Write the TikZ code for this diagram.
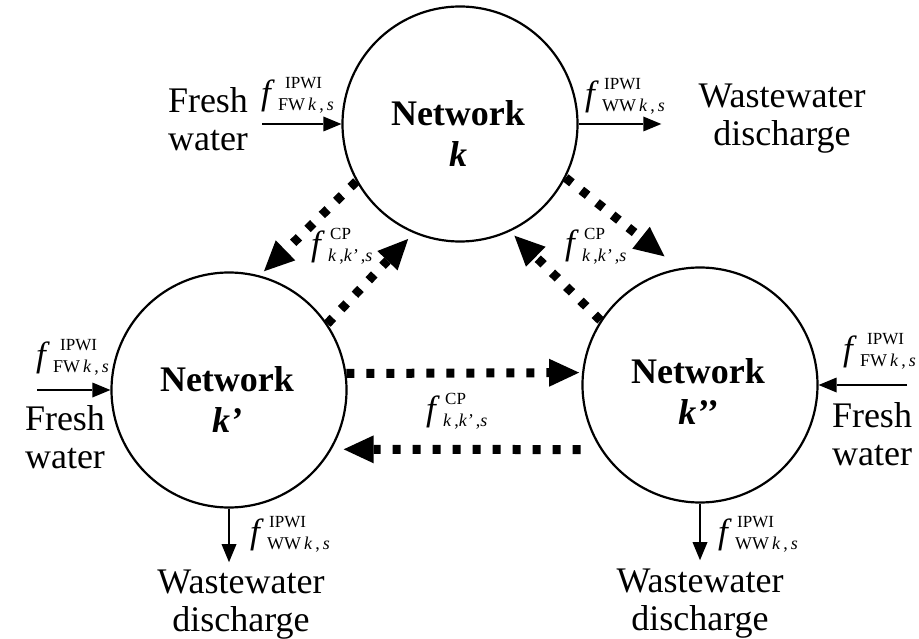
\documentclass[tikz,border=0pt]{standalone}
\usepackage{fontspec}
\setmainfont{Liberation Serif}
\usetikzlibrary{arrows.meta}

% flow symbol f with a superscript and a subscript; #3 shifts the superscript
\newcommand\flowlbl[3]{%
  \makebox[0pt][l]{\itshape f}%
  \makebox[0pt][l]{\hspace{#3}\raisebox{16pt}{\fontsize{17}{17}\selectfont #1}}%
  \hspace{17pt}\raisebox{-6pt}{\fontsize{18}{18}\selectfont #2}}
\newcommand\subks[1]{#1\,\textit{k}\,,\,\textit{s}}
\newcommand\subcp{\textit{k}\,,\textit{k’}\,,\textit{s}}
\newcommand\twoline[1]{\begin{tabular}[t]{@{}c@{}}#1\end{tabular}}

\tikzset{
  net/.style={circle, draw, line width=2.2pt, minimum size=235pt, inner sep=0pt},
  nettext/.style={font=\fontsize{36}{41}\selectfont\bfseries, anchor=base, inner sep=0pt},
  side/.style={font=\fontsize{36}{38}\selectfont, anchor=base, inner sep=0pt},
  lbl/.style={font=\fontsize{35}{35}\selectfont, anchor=base west, inner sep=0pt},
  flow/.style={line width=2.4pt, -{Triangle[length=18pt,width=15pt,line width=0pt]}},
  cpflow/.style={line width=9pt, dash pattern=on 8pt off 12pt,
    -{Triangle[length=30pt,width=28pt,line width=0pt]}},
}

\begin{document}
\begin{tikzpicture}[x=1pt, y=-1pt]
\useasboundingbox (0,0) rectangle (919,639);

% the three networks
\node[net] (k)   at (460,124) {};
\node[net] (kp)  at (229,390) {};
\node[net] (kpp) at (700,385) {};
\node[nettext] (kt)   at (458,126) {\twoline{Network\\\textit{k}}};
\node[nettext] (kpt)  at (227,391) {\twoline{Network\\\textit{k’}}};
\node[nettext] (kppt) at (698,383) {\twoline{Network\\\textit{k’’}}};

% sources and sinks
\node[side] (fw1) at (208,113) {\twoline{Fresh\\water}};
\node[side] (ww1) at (782,108) {\twoline{Wastewater\\discharge}};
\node[side] (fw2) at (65,430)  {\twoline{Fresh\\water}};
\node[side] (fw3) at (872,427) {\twoline{Fresh\\water}};
\node[side] (ww2) at (241,593) {\twoline{Wastewater\\discharge}};
\node[side] (ww3) at (700,592) {\twoline{Wastewater\\discharge}};
\coordinate (fw2in) at (37,390);
\coordinate (fw3in) at (907,385);

% fresh water in, wastewater out
\draw[flow, shorten <=14pt] (fw1.east |- k.west) -- (k.west);
\draw[flow, shorten >=37pt] (k.east) -- (k.east -| ww1.west);
\draw[flow] (fw2in) -- (kp.west);
\draw[flow] (fw3in) -- (kpp.east);
\draw[flow, shorten >=4pt] (kp.south) -- (kp.south |- ww2.north);
\draw[flow, shorten >=5pt] (kpp.south) -- (kpp.south |- ww3.north);

% exchanges between networks
\draw[cpflow, shorten >=6pt] (k.209) -- (kp.75);
\draw[cpflow, shorten >=8pt] (kp.34) -- (k.247);
\draw[cpflow, shorten >=19pt] (k.333) -- (kpp.100);
\draw[cpflow, shorten >=6pt] (kpp.147) -- (k.295);
\draw[cpflow, shorten >=3pt] (kp.8) -- (kpp.174);
\draw[cpflow, shorten <=20pt, shorten >=12pt] (kpp.213) -- (kp.330);

% flow labels
\node[lbl] (l1) at (261,105) {\flowlbl{IPWI}{\subks{FW}}{24pt}};
\node[lbl] (l2) at (585,106) {\flowlbl{IPWI}{\subks{WW}}{19pt}};
\node[lbl] (l3) at (311,256) {\flowlbl{CP}{\subcp}{19pt}};
\node[lbl] (l4) at (565,255) {\flowlbl{CP}{\subcp}{19pt}};
\node[lbl] (l5) at (426,420) {\flowlbl{CP}{\subcp}{19pt}};
\node[lbl] (l6) at (36,366)  {\flowlbl{IPWI}{\subks{FW}}{24pt}};
\node[lbl] (l7) at (843,360) {\flowlbl{IPWI}{\subks{FW}}{24pt}};
\node[lbl] (l8) at (250,543) {\flowlbl{IPWI}{\subks{WW}}{19pt}};
\node[lbl] (l9) at (718,543) {\flowlbl{IPWI}{\subks{WW}}{19pt}};
\end{tikzpicture}
\end{document}
